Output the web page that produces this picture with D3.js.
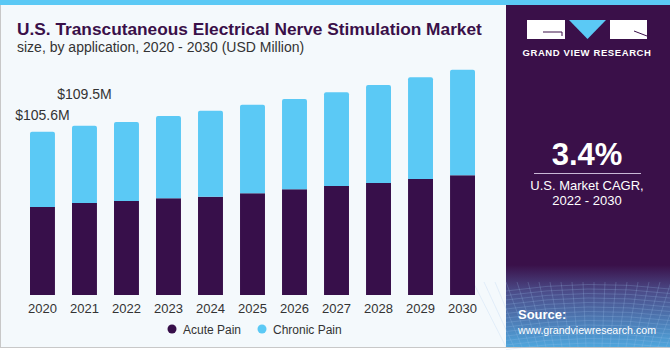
<!DOCTYPE html>
<html>
<head>
<meta charset="utf-8">
<script src="https://cdn.jsdelivr.net/npm/d3@7"></script>
<style>
  body { margin: 0; background: #fff; }
  svg { display: block; font-family: "Liberation Sans", Arial, sans-serif; }
</style>
</head>
<body>
<div id="chart"></div>
<script>
// Data
const years = ["2020", "2021", "2022", "2023", "2024", "2025", "2026", "2027", "2028", "2029", "2030"];
const acutePain = [57.0, 59.5, 60.8, 62.6, 63.6, 65.8, 68.4, 70.6, 72.5, 75.1, 77.5];
const chronicPain = [48.6, 50.0, 51.2, 53.3, 55.7, 57.4, 58.5, 60.6, 63.4, 65.8, 68.3];
const barLabels = ["$105.6M", "$109.5M"];
const seriesNames = ["Acute Pain", "Chronic Pain"];
const colors = ["#370f4a", "#5bc9f5"];

const W = 670, H = 350;
const svg = d3.select("#chart").append("svg")
    .attr("width", W)
    .attr("height", H);

const defs = svg.append("defs");
const grad = defs.append("linearGradient")
    .attr("id", "panelGrad")
    .attr("x1", 0).attr("y1", 0).attr("x2", 0).attr("y2", 1);
grad.append("stop").attr("offset", "0%").attr("stop-color", "#3a1049");
grad.append("stop").attr("offset", "76%").attr("stop-color", "#3a1049");
grad.append("stop").attr("offset", "84%").attr("stop-color", "#4b4d8a");
grad.append("stop").attr("offset", "100%").attr("stop-color", "#4fa6dc");

// background + border
svg.append("rect")
    .attr("x", 0.5).attr("y", 0.5)
    .attr("width", W - 1).attr("height", H - 3)
    .attr("fill", "#f4f9fc")
    .attr("stroke", "#c8c8c8");

// top stripe
svg.append("rect")
    .attr("x", 0).attr("y", 0)
    .attr("width", W).attr("height", 5)
    .attr("fill", "#5bc9f5");

// right panel
const panelX = 506;
svg.append("rect")
    .attr("x", panelX).attr("y", 5)
    .attr("width", W - panelX).attr("height", H - 8)
    .attr("fill", "url(#panelGrad)");

// faint mesh in the source area
const mesh = svg.append("g").attr("stroke", "#9fc4ec").attr("stroke-opacity", 0.22).attr("fill", "none");
for (let i = 0; i < 14; i++) {
    const yy = 285 + i * 4.5;
    mesh.append("path").attr("d", `M${panelX},${yy + 6} Q588,${yy - 6} ${W},${yy + 4}`);
}
for (let i = 0; i < 22; i++) {
    const xx = panelX + i * 8;
    mesh.append("path").attr("d", `M${xx},347 L${xx + (i - 11) * 3},282`);
}

// title
svg.append("text")
    .attr("x", 17).attr("y", 35)
    .attr("fill", "#3a1049")
    .attr("font-size", 17.3)
    .attr("font-weight", "bold")
    .text("U.S. Transcutaneous Electrical Nerve Stimulation Market");

svg.append("text")
    .attr("x", 17).attr("y", 52)
    .attr("fill", "#333")
    .attr("font-size", 14)
    .text("size, by application, 2020 - 2030 (USD Million)");

// scales
const x = d3.scaleBand()
    .domain(years)
    .range([30, 475])
    .paddingInner(0.406)
    .paddingOuter(0);

const y = d3.scaleLinear()
    .domain([0, 150])
    .range([295, 63.25]);

const table = years.map((yr, i) => ({ year: yr, "Acute Pain": acutePain[i], "Chronic Pain": chronicPain[i] }));
const stacked = d3.stack().keys(seriesNames)(table);

const barG = svg.append("g");
stacked.forEach((layer, k) => {
    barG.selectAll(null)
        .data(layer)
        .enter()
        .append("path")
        .attr("fill", colors[k])
        .attr("d", d => {
            const x0 = x(d.data.year), w = x.bandwidth();
            const yTop = y(d[1]), yBot = y(d[0]);
            if (k === 1) {
                const r = 2;
                return `M${x0},${yBot} L${x0},${yTop + r} Q${x0},${yTop} ${x0 + r},${yTop} L${x0 + w - r},${yTop} Q${x0 + w},${yTop} ${x0 + w},${yTop + r} L${x0 + w},${yBot} Z`;
            }
            return `M${x0},${yBot} L${x0},${yTop} L${x0 + w},${yTop} L${x0 + w},${yBot} Z`;
        });
});

// value labels on first two bars
const labelOffsets = [12, 27];
barLabels.forEach((lab, i) => {
    const total = acutePain[i] + chronicPain[i];
    svg.append("text")
        .attr("x", x(years[i]) + x.bandwidth() / 2)
        .attr("y", y(total) - labelOffsets[i])
        .attr("text-anchor", "middle")
        .attr("fill", "#333")
        .attr("font-size", 14)
        .text(lab);
});

// x axis
const xAxis = svg.append("g")
    .attr("transform", "translate(0,295)")
    .call(d3.axisBottom(x).tickSize(0).tickPadding(9));
xAxis.select(".domain").remove();
xAxis.selectAll("text")
    .attr("font-family", "Liberation Sans, Arial, sans-serif")
    .attr("font-size", 13)
    .attr("fill", "#333");

// legend
const legendX = [172, 262];
seriesNames.forEach((name, i) => {
    svg.append("circle")
        .attr("cx", legendX[i]).attr("cy", 329)
        .attr("r", 4.5)
        .attr("fill", colors[i]);
    svg.append("text")
        .attr("x", legendX[i] + 11).attr("y", 333.5)
        .attr("fill", "#333")
        .attr("font-size", 12)
        .text(name);
});

// logo
const logo = svg.append("g");
logo.append("rect").attr("x", 527).attr("y", 20).attr("width", 38).attr("height", 19).attr("fill", "#fff");
logo.append("path").attr("d", "M543,32 L562,32 L562,36").attr("stroke", "#3a1049").attr("stroke-width", 1).attr("fill", "none");
logo.append("path").attr("d", "M569,20 L606,20 L587.5,39 Z").attr("fill", "#5bc9f5");
logo.append("rect").attr("x", 610).attr("y", 20).attr("width", 37).attr("height", 19).attr("fill", "#fff");
logo.append("path").attr("d", "M634,31 L647,36").attr("stroke", "#3a1049").attr("stroke-width", 1);
logo.append("text")
    .attr("x", 587).attr("y", 56)
    .attr("text-anchor", "middle")
    .attr("fill", "#fff")
    .attr("font-size", 9.5)
    .attr("font-weight", "bold")
    .attr("letter-spacing", 0.6)
    .text("GRAND VIEW RESEARCH");

// CAGR block
svg.append("text")
    .attr("x", 587).attr("y", 165)
    .attr("text-anchor", "middle")
    .attr("fill", "#fff")
    .attr("font-size", 31)
    .attr("font-weight", "bold")
    .text("3.4%");
svg.append("line")
    .attr("x1", 534).attr("x2", 641)
    .attr("y1", 173.5).attr("y2", 173.5)
    .attr("stroke", "#c9b8d6").attr("stroke-width", 1);
svg.append("text")
    .attr("x", 587).attr("y", 190)
    .attr("text-anchor", "middle")
    .attr("fill", "#fff")
    .attr("font-size", 13)
    .text("U.S. Market CAGR,");
svg.append("text")
    .attr("x", 587).attr("y", 205)
    .attr("text-anchor", "middle")
    .attr("fill", "#fff")
    .attr("font-size", 13)
    .text("2022 - 2030");

// source
svg.append("text")
    .attr("x", 518).attr("y", 319)
    .attr("fill", "#fff")
    .attr("font-size", 13)
    .attr("font-weight", "bold")
    .text("Source:");
svg.append("text")
    .attr("x", 518).attr("y", 334)
    .attr("fill", "#fff")
    .attr("font-size", 11.5)
    .attr("textLength", 138)
    .attr("lengthAdjust", "spacingAndGlyphs")
    .text("www.grandviewresearch.com");
</script>
</body>
</html>
